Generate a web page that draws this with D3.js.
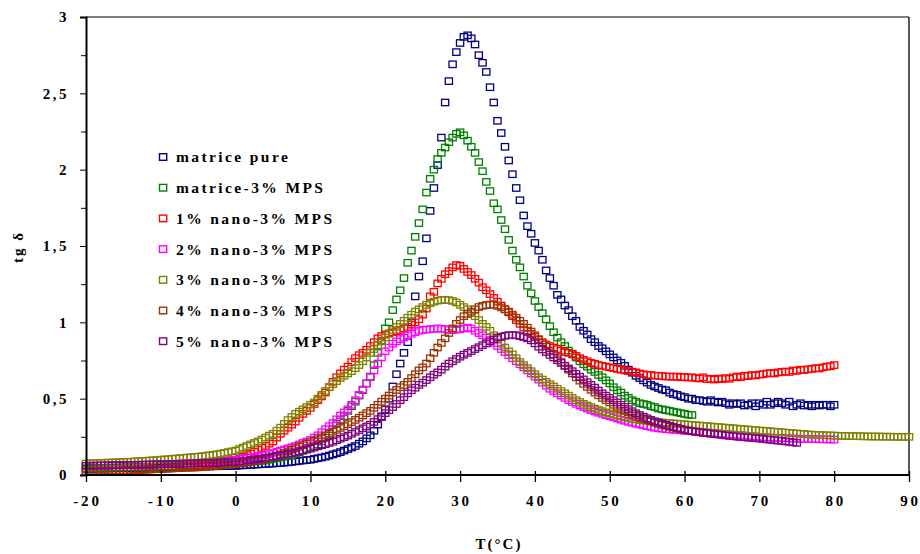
<!DOCTYPE html>
<html><head><meta charset="utf-8">
<script src="https://cdn.jsdelivr.net/npm/d3@7"></script>
<style>body{margin:0;background:#fff}svg{display:block}</style>
</head><body>
<svg id="c" width="920" height="554"></svg>
<script>
// temperature sampling (°C)
const temps = [
-20,-19.5,-19,-18.5,-18,-17.5,-17,-16.5,-16,-15.5,-15,-14.5,-14,-13.5,-13,-12.5,-12,-11.5,-11,-10.5,
-10,-9.5,-9,-8.5,-8,-7.5,-7,-6.5,-6,-5.5,-5,-4.5,-4,-3.5,-3,-2.5,-2,-1.5,-1,-0.5,
0,0.5,1,1.5,2,2.5,3,3.5,4,4.5,5,5.5,6,6.5,7,7.5,8,8.5,9,9.5,
10,10.5,11,11.5,12,12.5,13,13.5,14,14.5,15,15.5,16,16.5,17,17.5,18,18.5,19,19.5,
20,20.5,21,21.5,22,22.5,23,23.5,24,24.5,25,25.5,26,26.5,27,27.5,28,28.5,29,29.5,
30,30.5,31,31.5,32,32.5,33,33.5,34,34.5,35,35.5,36,36.5,37,37.5,38,38.5,39,39.5,
40,40.5,41,41.5,42,42.5,43,43.5,44,44.5,45,45.5,46,46.5,47,47.5,48,48.5,49,49.5,
50,50.5,51,51.5,52,52.5,53,53.5,54,54.5,55,55.5,56,56.5,57,57.5,58,58.5,59,59.5,
60,60.5,61,61.5,62,62.5,63,63.5,64,64.5,65,65.5,66,66.5,67,67.5,68,68.5,69,69.5,
70,70.5,71,71.5,72,72.5,73,73.5,74,74.5,75,75.5,76,76.5,77,77.5,78,78.5,79,79.5,
80,80.5,81,81.5,82,82.5,83,83.5,84,84.5,85,85.5,86,86.5,87,87.5,88,88.5,89,89.5,90];

const seriesNames = ["matrice pure","matrice-3% MPS","1% nano-3% MPS","2% nano-3% MPS","3% nano-3% MPS","4% nano-3% MPS","5% nano-3% MPS"];
const seriesColors = ["#000080","#008000","#ff0000","#ff00ff","#808000","#993300","#800080"];

const matricePure = [
0.040,0.040,0.041,0.041,0.042,0.042,0.043,0.043,0.044,0.044,0.045,0.045,0.046,0.046,0.047,0.047,0.048,0.048,0.049,0.049,
0.050,0.050,0.051,0.051,0.052,0.052,0.053,0.053,0.054,0.054,0.055,0.055,0.056,0.056,0.057,0.057,0.058,0.058,0.059,0.059,
0.060,0.062,0.063,0.065,0.066,0.068,0.069,0.071,0.072,0.074,0.075,0.077,0.079,0.081,0.083,0.086,0.089,0.092,0.095,0.098,
0.100,0.105,0.110,0.115,0.120,0.127,0.135,0.142,0.150,0.160,0.170,0.180,0.190,0.205,0.220,0.240,0.260,0.290,0.330,0.380,
0.430,0.500,0.580,0.660,0.730,0.800,0.870,1.000,1.170,1.300,1.400,1.550,1.730,1.880,2.030,2.210,2.440,2.580,2.690,2.770,
2.830,2.870,2.880,2.860,2.820,2.750,2.700,2.640,2.540,2.440,2.320,2.240,2.150,2.060,1.970,1.880,1.800,1.700,1.630,1.580,
1.520,1.470,1.410,1.340,1.290,1.240,1.180,1.150,1.110,1.080,1.040,1.010,0.970,0.945,0.920,0.890,0.870,0.845,0.830,0.810,
0.790,0.770,0.750,0.735,0.715,0.690,0.670,0.650,0.635,0.620,0.605,0.590,0.580,0.570,0.560,0.555,0.540,0.530,0.525,0.515,
0.510,0.500,0.500,0.490,0.490,0.485,0.480,0.490,0.480,0.475,0.480,0.470,0.460,0.470,0.465,0.470,0.455,0.460,0.470,0.450,
0.470,0.460,0.480,0.460,0.470,0.480,0.470,0.460,0.480,0.450,0.460,0.470,0.455,0.460,0.450,0.460,0.455,0.460,0.460,0.450,0.460];

const matriceMPS = [
0.045,0.045,0.046,0.046,0.047,0.047,0.048,0.048,0.049,0.049,0.050,0.050,0.051,0.051,0.052,0.052,0.053,0.053,0.054,0.054,
0.055,0.056,0.057,0.058,0.059,0.060,0.061,0.062,0.063,0.064,0.065,0.066,0.067,0.068,0.069,0.070,0.071,0.072,0.073,0.074,
0.075,0.078,0.080,0.082,0.085,0.088,0.090,0.093,0.095,0.100,0.105,0.110,0.115,0.120,0.125,0.130,0.140,0.150,0.160,0.170,
0.180,0.190,0.200,0.220,0.245,0.270,0.300,0.335,0.360,0.385,0.420,0.450,0.480,0.520,0.555,0.600,0.645,0.720,0.800,0.880,
0.960,1.000,1.080,1.150,1.210,1.290,1.390,1.470,1.560,1.650,1.740,1.850,1.940,2.000,2.070,2.110,2.145,2.180,2.210,2.235,
2.245,2.225,2.190,2.150,2.110,2.050,1.990,1.920,1.860,1.780,1.740,1.670,1.610,1.540,1.470,1.410,1.360,1.300,1.240,1.190,
1.140,1.100,1.060,1.020,0.975,0.935,0.900,0.870,0.845,0.815,0.790,0.770,0.745,0.725,0.710,0.690,0.675,0.655,0.640,0.620,
0.600,0.575,0.555,0.540,0.520,0.505,0.490,0.480,0.470,0.465,0.460,0.450,0.445,0.435,0.430,0.425,0.420,0.415,0.410,0.405,
0.400,0.395,0.393];

const nano1 = [
0.020,0.021,0.022,0.023,0.024,0.025,0.026,0.027,0.028,0.029,0.030,0.031,0.032,0.033,0.034,0.035,0.036,0.037,0.038,0.039,
0.040,0.042,0.044,0.046,0.048,0.050,0.052,0.054,0.056,0.058,0.060,0.063,0.066,0.069,0.072,0.076,0.080,0.085,0.090,0.095,
0.100,0.110,0.120,0.130,0.140,0.152,0.165,0.178,0.190,0.205,0.220,0.245,0.270,0.290,0.310,0.330,0.350,0.375,0.400,0.420,
0.440,0.465,0.490,0.515,0.540,0.575,0.610,0.640,0.665,0.690,0.710,0.740,0.765,0.785,0.800,0.820,0.845,0.870,0.895,0.910,
0.920,0.928,0.935,0.942,0.950,0.960,0.970,0.985,1.000,1.020,1.050,1.090,1.170,1.200,1.255,1.285,1.315,1.335,1.360,1.375,
1.370,1.350,1.330,1.310,1.285,1.260,1.230,1.210,1.185,1.160,1.135,1.110,1.085,1.065,1.040,1.015,0.990,0.965,0.945,0.925,
0.905,0.885,0.870,0.855,0.845,0.835,0.825,0.815,0.805,0.800,0.795,0.780,0.765,0.755,0.745,0.735,0.728,0.720,0.715,0.710,
0.705,0.700,0.695,0.690,0.685,0.680,0.677,0.672,0.665,0.660,0.655,0.655,0.650,0.650,0.648,0.645,0.645,0.643,0.645,0.640,
0.642,0.638,0.640,0.635,0.632,0.640,0.628,0.630,0.625,0.632,0.628,0.635,0.630,0.640,0.645,0.640,0.650,0.648,0.655,0.652,
0.658,0.660,0.665,0.668,0.665,0.672,0.675,0.678,0.675,0.685,0.682,0.690,0.688,0.692,0.695,0.700,0.698,0.705,0.710,0.712,0.720];

const nano2 = [
0.060,0.060,0.061,0.061,0.062,0.062,0.063,0.063,0.064,0.064,0.065,0.065,0.066,0.066,0.067,0.067,0.068,0.068,0.069,0.069,
0.070,0.071,0.072,0.073,0.074,0.075,0.076,0.077,0.078,0.079,0.080,0.082,0.084,0.086,0.088,0.090,0.092,0.094,0.096,0.098,
0.100,0.104,0.108,0.112,0.115,0.119,0.123,0.127,0.130,0.137,0.145,0.152,0.160,0.167,0.175,0.182,0.190,0.200,0.210,0.220,
0.230,0.245,0.260,0.280,0.300,0.320,0.340,0.365,0.390,0.410,0.430,0.460,0.490,0.525,0.560,0.600,0.640,0.685,0.730,0.770,
0.810,0.835,0.860,0.875,0.890,0.900,0.915,0.925,0.935,0.945,0.950,0.953,0.955,0.958,0.960,0.958,0.955,0.950,0.950,0.952,
0.955,0.960,0.965,0.960,0.945,0.930,0.915,0.900,0.885,0.865,0.845,0.825,0.805,0.785,0.765,0.745,0.725,0.705,0.685,0.665,
0.645,0.625,0.605,0.585,0.565,0.550,0.535,0.520,0.505,0.490,0.478,0.466,0.455,0.445,0.435,0.425,0.416,0.408,0.400,0.392,
0.385,0.378,0.370,0.362,0.355,0.348,0.342,0.336,0.330,0.325,0.320,0.315,0.310,0.306,0.303,0.300,0.298,0.296,0.294,0.292,
0.290,0.288,0.286,0.284,0.282,0.280,0.278,0.276,0.274,0.272,0.270,0.268,0.266,0.264,0.262,0.260,0.258,0.256,0.254,0.252,
0.250,0.248,0.246,0.245,0.244,0.243,0.242,0.241,0.240,0.239,0.238,0.237,0.236,0.236,0.235,0.235,0.234,0.234,0.233,0.233,0.232];

const nano3 = [
0.075,0.076,0.077,0.078,0.079,0.080,0.081,0.082,0.083,0.084,0.085,0.086,0.087,0.089,0.090,0.092,0.093,0.095,0.096,0.098,
0.100,0.102,0.104,0.106,0.108,0.110,0.112,0.114,0.116,0.118,0.120,0.123,0.126,0.129,0.132,0.136,0.140,0.145,0.150,0.155,
0.160,0.170,0.180,0.190,0.200,0.210,0.220,0.232,0.245,0.258,0.270,0.290,0.310,0.335,0.360,0.380,0.400,0.415,0.430,0.445,
0.460,0.475,0.500,0.525,0.550,0.575,0.595,0.615,0.635,0.650,0.665,0.680,0.700,0.720,0.745,0.770,0.800,0.825,0.850,0.875,
0.900,0.925,0.950,0.970,0.990,1.010,1.030,1.050,1.070,1.085,1.100,1.115,1.125,1.135,1.142,1.146,1.148,1.145,1.140,1.130,
1.115,1.100,1.085,1.060,1.040,1.015,0.990,0.970,0.945,0.915,0.890,0.860,0.835,0.810,0.790,0.765,0.740,0.720,0.700,0.680,
0.660,0.640,0.625,0.610,0.595,0.580,0.565,0.550,0.535,0.520,0.505,0.490,0.478,0.466,0.455,0.445,0.435,0.426,0.418,0.410,
0.403,0.396,0.390,0.384,0.378,0.373,0.368,0.364,0.360,0.357,0.354,0.351,0.348,0.346,0.344,0.342,0.340,0.338,0.336,0.334,
0.332,0.330,0.328,0.326,0.324,0.322,0.320,0.318,0.316,0.314,0.312,0.310,0.308,0.306,0.304,0.302,0.300,0.298,0.296,0.294,
0.292,0.290,0.288,0.286,0.284,0.282,0.280,0.278,0.276,0.274,0.272,0.270,0.268,0.266,0.264,0.263,0.262,0.261,0.260,0.259,
0.258,0.257,0.256,0.256,0.255,0.255,0.254,0.254,0.253,0.253,0.252,0.252,0.252,0.251,0.251,0.251,0.250,0.250,0.250,0.250,0.250];

const nano4 = [
0.025,0.025,0.026,0.026,0.027,0.027,0.028,0.028,0.029,0.029,0.030,0.031,0.032,0.033,0.034,0.035,0.036,0.037,0.038,0.039,
0.040,0.041,0.042,0.043,0.044,0.045,0.046,0.047,0.048,0.049,0.050,0.052,0.054,0.056,0.058,0.060,0.062,0.064,0.066,0.068,
0.070,0.074,0.078,0.082,0.086,0.090,0.095,0.100,0.105,0.112,0.120,0.127,0.135,0.145,0.155,0.165,0.175,0.185,0.195,0.205,
0.215,0.225,0.235,0.247,0.259,0.271,0.284,0.296,0.308,0.320,0.333,0.347,0.361,0.375,0.390,0.405,0.420,0.440,0.460,0.480,
0.500,0.520,0.540,0.557,0.575,0.590,0.610,0.635,0.660,0.685,0.705,0.730,0.765,0.800,0.835,0.865,0.895,0.930,0.960,0.990,
1.015,1.040,1.055,1.070,1.085,1.100,1.108,1.113,1.116,1.115,1.108,1.098,1.085,1.070,1.050,1.030,1.010,0.990,0.965,0.940,
0.915,0.890,0.865,0.840,0.815,0.790,0.765,0.740,0.715,0.690,0.665,0.640,0.618,0.597,0.577,0.558,0.540,0.522,0.505,0.490,
0.475,0.460,0.447,0.434,0.422,0.410,0.399,0.388,0.378,0.368,0.359,0.350,0.342,0.335,0.328,0.322,0.316,0.310,0.305,0.300,
0.295,0.291,0.287,0.283,0.280,0.277,0.274,0.271,0.268];

const nano5 = [
0.060,0.060,0.061,0.061,0.062,0.062,0.063,0.063,0.064,0.064,0.065,0.065,0.066,0.066,0.067,0.067,0.068,0.068,0.069,0.069,
0.070,0.071,0.071,0.072,0.072,0.073,0.074,0.074,0.075,0.076,0.077,0.078,0.078,0.079,0.080,0.081,0.082,0.083,0.084,0.085,
0.086,0.089,0.092,0.095,0.098,0.101,0.104,0.108,0.112,0.116,0.120,0.124,0.128,0.133,0.138,0.143,0.148,0.154,0.160,0.166,
0.172,0.180,0.188,0.195,0.202,0.210,0.218,0.228,0.238,0.248,0.258,0.270,0.282,0.294,0.306,0.318,0.330,0.348,0.366,0.385,
0.405,0.425,0.445,0.465,0.490,0.510,0.535,0.555,0.572,0.590,0.605,0.622,0.640,0.657,0.672,0.690,0.710,0.730,0.745,0.760,
0.775,0.788,0.800,0.812,0.825,0.837,0.850,0.862,0.875,0.888,0.900,0.906,0.912,0.916,0.917,0.915,0.910,0.903,0.895,0.882,
0.862,0.840,0.822,0.805,0.787,0.770,0.752,0.734,0.716,0.698,0.680,0.662,0.644,0.626,0.608,0.590,0.572,0.553,0.535,0.520,
0.505,0.490,0.475,0.460,0.446,0.432,0.418,0.405,0.393,0.382,0.371,0.361,0.352,0.344,0.336,0.329,0.322,0.315,0.309,0.303,
0.297,0.292,0.288,0.284,0.280,0.277,0.274,0.271,0.268,0.265,0.262,0.259,0.256,0.254,0.251,0.249,0.247,0.245,0.243,0.241,
0.239,0.236,0.233,0.231,0.228,0.225,0.223,0.220,0.217,0.214,0.210];

const seriesValues = [matricePure, matriceMPS, nano1, nano2, nano3, nano4, nano5];

const xTicks = [-20,-10,0,10,20,30,40,50,60,70,80,90];
const yTicks = [0,0.5,1,1.5,2,2.5,3];
const yMinorTicks = [0.25,0.75,1.25,1.75,2.25,2.75];
const xTitle = "T(°C)";
const yTitle = "tg δ";

const FONT = "'Liberation Serif','Times New Roman',serif";
const svg = d3.select("#c");
const x = d3.scaleLinear().domain([-20, 90]).range([86, 909]);
const y = d3.scaleLinear().domain([0, 3]).range([475, 17]);

// frame
svg.append("line").attr("x1", 86).attr("x2", 909).attr("y1", 17).attr("y2", 17).attr("stroke", "#000").attr("stroke-width", 1);
svg.append("line").attr("x1", 909).attr("x2", 909).attr("y1", 17).attr("y2", 475).attr("stroke", "#000").attr("stroke-width", 1.3);

// series
const marks = svg.append("g");
seriesValues.forEach((vals, si) => {
  const pts = vals.map((v, i) => ({t: temps[i], v}));
  marks.append("g").selectAll("rect").data(pts).join("rect")
    .attr("x", d => x(d.t) - 3.6).attr("y", d => y(d.v) - 3.2)
    .attr("width", 7.2).attr("height", 6.4)
    .attr("fill", "none").attr("stroke", seriesColors[si]).attr("stroke-width", 1.3);
});

// y axis
const fmt = d => String(d).replace(".", ",");
const yAxis = svg.append("g").attr("transform", "translate(86,0)")
  .call(d3.axisLeft(y).tickValues(yTicks).tickSize(6).tickPadding(11).tickFormat(fmt));
svg.append("g").attr("transform", "translate(86,0)")
  .call(d3.axisLeft(y).tickValues(yMinorTicks).tickSize(5).tickFormat(""))
  .call(g => g.select(".domain").remove());
yAxis.select(".domain").attr("stroke-width", 2);
yAxis.selectAll("text").attr("font-family", FONT).attr("font-weight", "bold").attr("font-size", 15)
  .attr("letter-spacing", "2.5px").attr("fill", "#000");

// x axis
const xAxisG = svg.append("g").attr("transform", "translate(0,471)")
  .call(d3.axisBottom(x).tickValues(xTicks).tickSize(11).tickPadding(13).tickFormat(d => String(d)));
xAxisG.select(".domain").remove();
xAxisG.selectAll(".tick line").attr("stroke-width", 1.3);
xAxisG.selectAll("text").attr("font-family", FONT).attr("font-weight", "bold").attr("font-size", 15)
  .attr("letter-spacing", "2.8px").attr("dx", "1px").attr("fill", "#000");
svg.append("line").attr("x1", 86).attr("x2", 909).attr("y1", 475).attr("y2", 475).attr("stroke", "#000").attr("stroke-width", 2);

// axis titles
svg.append("text").attr("x", 499).attr("y", 549).attr("text-anchor", "middle")
  .attr("font-family", FONT).attr("font-weight", "bold").attr("font-size", 15).attr("letter-spacing", "2px").text(xTitle);
svg.append("text").attr("transform", "translate(23,247) rotate(-90)").attr("text-anchor", "middle")
  .attr("font-family", FONT).attr("font-weight", "bold").attr("font-size", 15).attr("letter-spacing", "2px").text(yTitle);

// legend
const leg = svg.append("g");
seriesNames.forEach((name, i) => {
  const cy = 157 + i * 30.7;
  leg.append("rect").attr("x", 159.5).attr("y", cy - 3.3).attr("width", 7.2).attr("height", 6.6)
    .attr("fill", "none").attr("stroke", seriesColors[i]).attr("stroke-width", 1.4);
  leg.append("text").attr("x", 176).attr("y", cy).attr("dy", "0.35em")
    .attr("font-family", FONT).attr("font-weight", "bold").attr("font-size", 15.5)
    .attr("letter-spacing", "2.4px").text(name);
});
</script>
</body></html>
